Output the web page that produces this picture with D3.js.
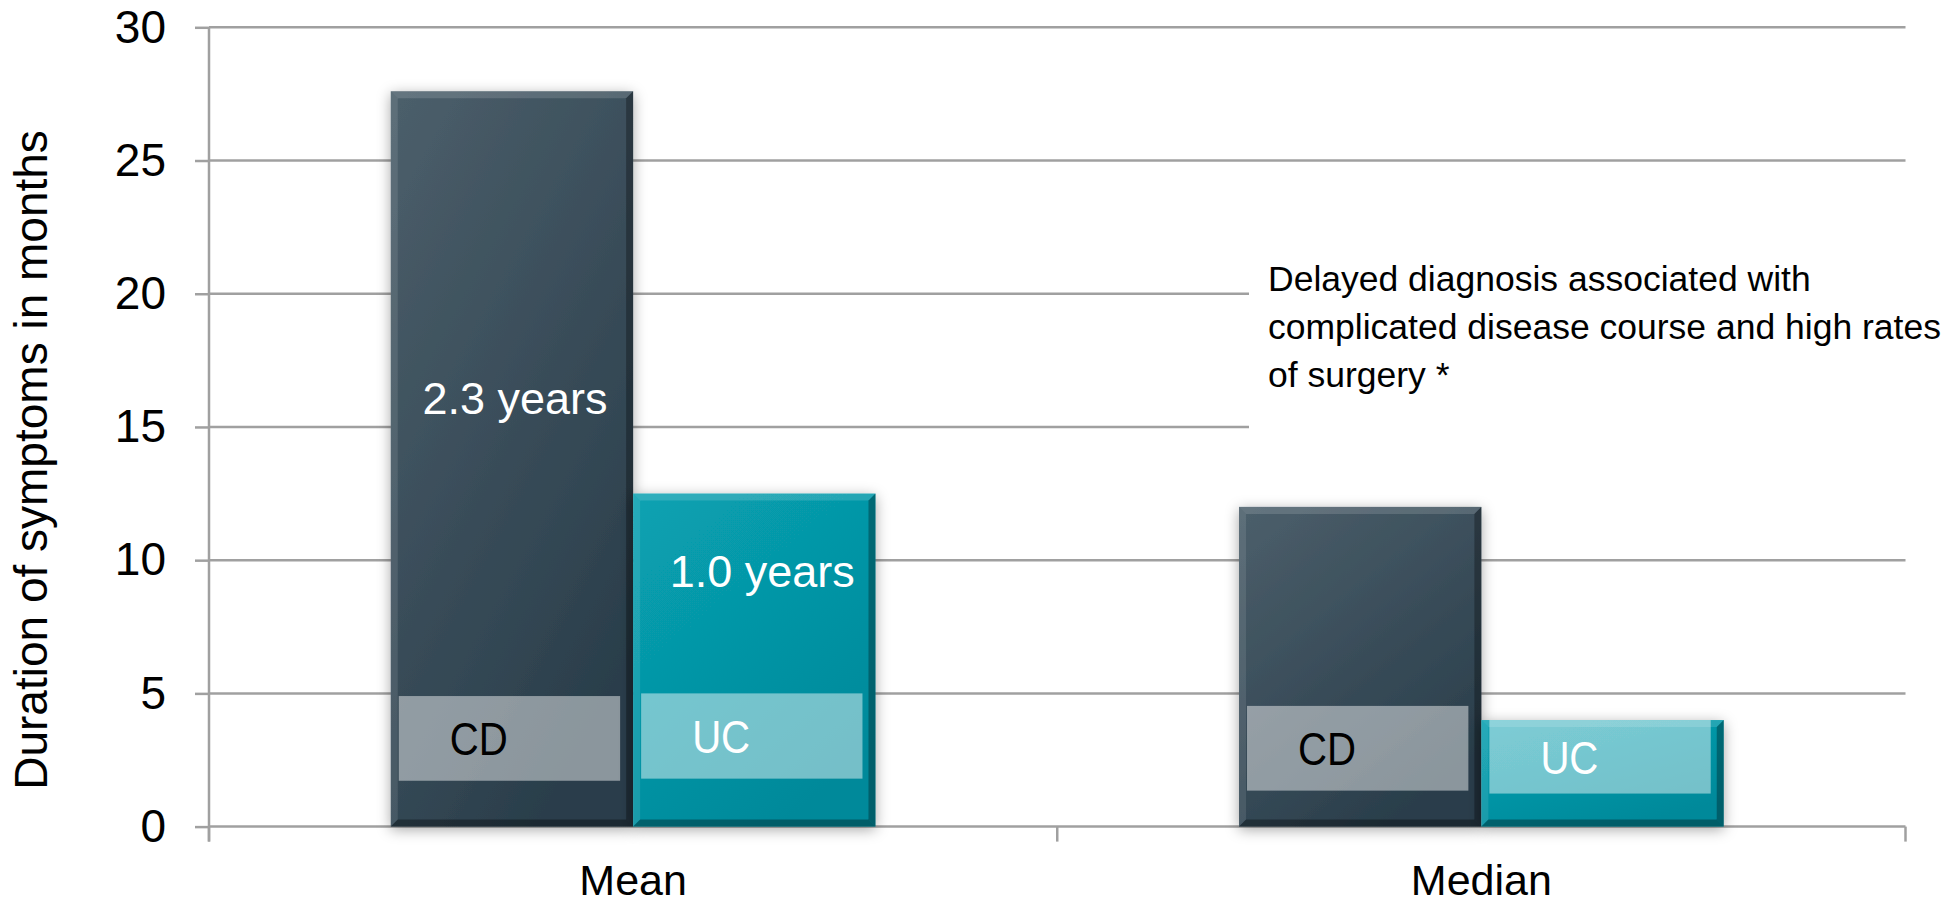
<!DOCTYPE html>
<html>
<head>
<meta charset="utf-8">
<script src="https://cdn.jsdelivr.net/npm/d3@7"></script>
<style>
html, body { margin: 0; padding: 0; background: #fff; }
svg { display: block; font-family: "Liberation Sans", Arial, sans-serif; }
</style>
</head>
<body>
<div id="chart"></div>
<script>
// Data (months)
const categories = ["Mean", "Median"];
const series = ["CD", "UC"];
const cdMonths = [27.6, 12.0];
const ucMonths = [12.5, 4.0];
const yTicks = [0, 5, 10, 15, 20, 25, 30];
const yearLabels = [["2.3 years", "1.0 years"], ["", ""]];
const noteLines = ["Delayed diagnosis associated with", "complicated disease course and high rates", "of surgery *"];
const yTitle = "Duration of symptoms in months";

const width = 1949;
const height = 906;
const plot = {left: 209, right: 1905.5, top: 27.3, bottom: 826.6};

const svg = d3.select("#chart")
  .append("svg")
    .attr("width", width)
    .attr("height", height);

// Scales
const x0 = d3.scaleBand()
    .domain(categories)
    .range([plot.left, plot.right]);

const x1 = d3.scaleBand()
    .domain(series)
    .range([0, x0.bandwidth()])
    .paddingInner(0)
    .paddingOuter(0.75);

const y = d3.scaleLinear()
    .domain([0, 30])
    .range([plot.bottom, plot.top]);

const rows = categories.flatMap((c, i) => [
  {cat: c, key: "CD", value: cdMonths[i], label: yearLabels[i][0]},
  {cat: c, key: "UC", value: ucMonths[i], label: yearLabels[i][1]}
]);

// Gradients and shadow
const defs = svg.append("defs");
const grads = {CD: ["#4c5f6b", "#2a3e4b"], UC: ["#08a2b2", "#03899a"]};
Object.entries(grads).forEach(([k, [c0, c1]]) => {
  const g = defs.append("linearGradient")
      .attr("id", "grad-" + k)
      .attr("x1", 0).attr("y1", 0).attr("x2", 0.6).attr("y2", 1);
  g.append("stop").attr("offset", 0).attr("stop-color", c0);
  g.append("stop").attr("offset", 1).attr("stop-color", c1);
});
const shadow = defs.append("filter")
    .attr("id", "shadow")
    .attr("x", -0.2).attr("y", -0.2).attr("width", 1.4).attr("height", 1.4);
shadow.append("feDropShadow")
    .attr("dx", 0).attr("dy", 3)
    .attr("stdDeviation", 7)
    .attr("flood-color", "#000")
    .attr("flood-opacity", 0.35);

// Gridlines
svg.append("g")
  .selectAll("line")
  .data(yTicks)
  .join("line")
    .attr("x1", plot.left)
    .attr("x2", plot.right)
    .attr("y1", d => y(d))
    .attr("y2", d => y(d))
    .attr("stroke", "#a0a0a0")
    .attr("stroke-width", 2.5);

// Y axis (ticks + labels)
const yAxis = svg.append("g")
    .attr("transform", `translate(${plot.left},0)`)
    .call(d3.axisLeft(y).tickValues(yTicks).tickSize(14).tickPadding(29));
yAxis.select(".domain").remove();
yAxis.selectAll(".tick line").attr("stroke", "#a0a0a0").attr("stroke-width", 2.5);
yAxis.selectAll(".tick text")
    .attr("font-family", "'Liberation Sans', Arial, sans-serif")
    .attr("font-size", 46)
    .attr("fill", "#000");

svg.append("line")
    .attr("x1", plot.left).attr("x2", plot.left)
    .attr("y1", plot.top).attr("y2", plot.bottom + 15)
    .attr("stroke", "#a0a0a0")
    .attr("stroke-width", 2.5);

// X axis boundary ticks
const edges = [plot.left, ...categories.map(c => x0(c) + x0.bandwidth())];
svg.append("g")
  .selectAll("line")
  .data(edges)
  .join("line")
    .attr("x1", d => d).attr("x2", d => d)
    .attr("y1", plot.bottom).attr("y2", plot.bottom + 15)
    .attr("stroke", "#a0a0a0")
    .attr("stroke-width", 2.5);

svg.append("g")
  .selectAll("text")
  .data(categories)
  .join("text")
    .attr("x", d => x0(d) + x0.bandwidth() / 2)
    .attr("y", 895)
    .attr("text-anchor", "middle")
    .attr("font-size", 43)
    .text(d => d);

// Y title
svg.append("text")
    .attr("transform", `translate(47,${(plot.top + plot.bottom) / 2 + 33}) rotate(-90)`)
    .attr("text-anchor", "middle")
    .attr("font-size", 46)
    .text(yTitle);

// Bars
const bar = svg.append("g")
  .selectAll("g")
  .data(rows)
  .join("g")
    .attr("transform", d => `translate(${x0(d.cat) + x1(d.key)},0)`);

const bw = x1.bandwidth();
const bev = 7;

bar.append("rect")
    .attr("y", d => y(d.value))
    .attr("width", bw)
    .attr("height", d => y(0) - y(d.value))
    .attr("fill", d => `url(#grad-${d.key})`)
    .attr("filter", "url(#shadow)");

// bevel edges
const bevels = [
  {side: "top", fill: "#fff", op: 0.14},
  {side: "left", fill: "#fff", op: 0.10},
  {side: "right", fill: "#000", op: 0.30},
  {side: "bottom", fill: "#000", op: 0.32}
];
bevels.forEach(b => {
  bar.append("polygon")
      .attr("fill", b.fill)
      .attr("fill-opacity", b.op)
      .attr("points", d => {
        const t = y(d.value), btm = y(0), w = bw;
        if (b.side === "top") return [[0, t], [w, t], [w - bev, t + bev], [bev, t + bev]].join(" ");
        if (b.side === "left") return [[0, t], [bev, t + bev], [bev, btm - bev], [0, btm]].join(" ");
        if (b.side === "right") return [[w, t], [w, btm], [w - bev, btm - bev], [w - bev, t + bev]].join(" ");
        return [[0, btm], [w, btm], [w - bev, btm - bev], [bev, btm - bev]].join(" ");
      });
});

// Year labels inside the Mean bars
const yearAt = {CD: 15.5, UC: 9.0};
bar.filter(d => d.label)
  .append("text")
    .attr("x", d => bw / 2 + (d.key === "UC" ? 8 : 3))
    .attr("y", d => y(yearAt[d.key]))
    .attr("text-anchor", "middle")
    .attr("font-size", 45)
    .attr("fill", "#fff")
    .text(d => d.label);

// Translucent tag boxes with series names
const tagBox = {
  Mean: {CD: [4.9, 1.72], UC: [5.0, 1.8]},
  Median: {CD: [4.53, 1.35], UC: [4.0, 1.24]}
};
bar.append("rect")
    .attr("x", 8)
    .attr("y", d => y(tagBox[d.cat][d.key][0]))
    .attr("width", bw - 21)
    .attr("height", d => y(tagBox[d.cat][d.key][1]) - y(tagBox[d.cat][d.key][0]))
    .attr("fill", "#fff")
    .attr("fill-opacity", 0.46);

bar.append("text")
    .attr("x", 59)
    .attr("y", d => (y(tagBox[d.cat][d.key][0]) + y(tagBox[d.cat][d.key][1])) / 2 + 17)
    .attr("font-size", 46)
    .attr("textLength", 58)
    .attr("lengthAdjust", "spacingAndGlyphs")
    .attr("fill", d => d.key === "CD" ? "#000" : "#fff")
    .text(d => d.key);

// Note with white backing over the gridlines
svg.append("rect")
    .attr("x", 1249)
    .attr("y", 250)
    .attr("width", width - 1249)
    .attr("height", 200)
    .attr("fill", "#fff");

svg.append("text")
    .attr("font-size", 35.5)
  .selectAll("tspan")
  .data(noteLines)
  .join("tspan")
    .attr("x", 1268)
    .attr("y", (d, i) => 291 + i * 48)
    .text(d => d);
</script>
</body>
</html>
